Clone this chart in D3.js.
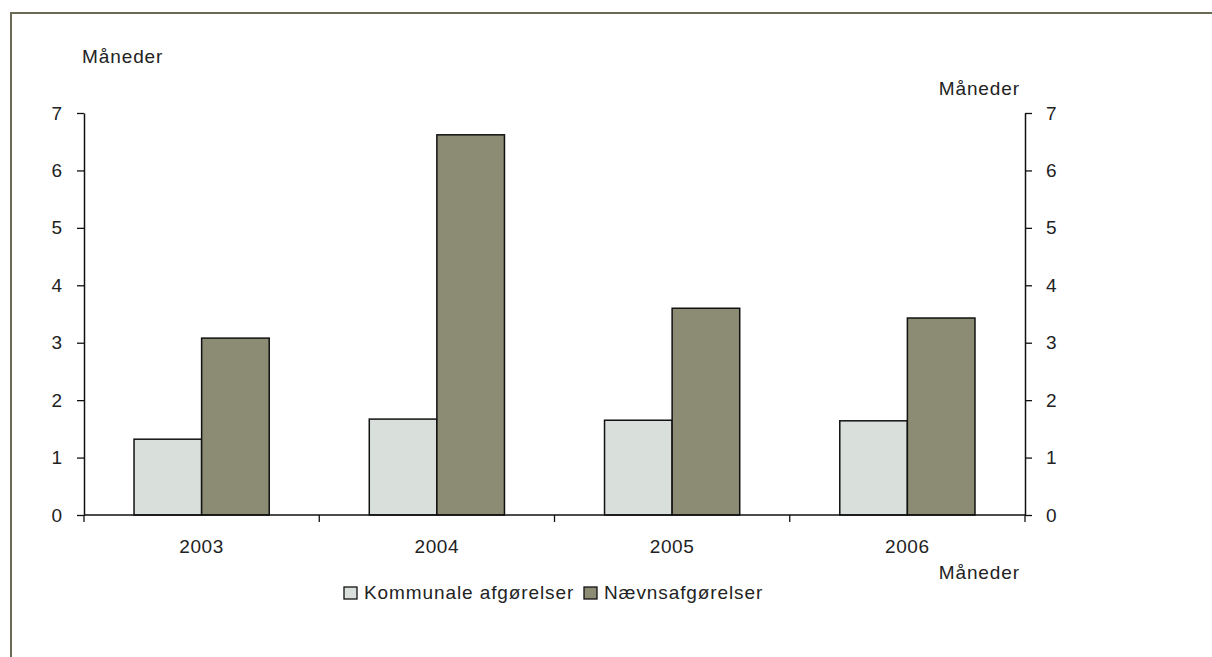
<!doctype html>
<meta charset='utf-8'>
<body style='margin:0;background:#fff'>
<script src='https://d3js.org/d3.v7.min.js'></script>
<script>

var years = ['2003', '2004', '2005', '2006'];
var seriesNames = ['Kommunale afgørelser', 'Nævnsafgørelser'];
var kommunale = [1.32, 1.67, 1.65, 1.64];
var naevn = [3.08, 6.62, 3.60, 3.43];
var yTicks = [0, 1, 2, 3, 4, 5, 6, 7];

var colors = ['#d9e0dc', '#8c8b74'];
var W = 1212, H = 657;
var plotLeft = 84, plotRight = 1025, plotTop = 113, plotBottom = 515;
var fontSize = '19px', spacing = '0.9px', ink = '#222';

var svg = d3.select('body').append('svg')
    .attr('width', W)
    .attr('height', H)
    .style('font-family', 'Liberation Sans, Arial, sans-serif');

// frame round the figure
svg.append('rect')
    .attr('x', 11).attr('y', 13)
    .attr('width', W + 20).attr('height', H + 20)
    .attr('fill', 'none')
    .attr('stroke', '#6b6b55')
    .attr('stroke-width', 2);

var x = d3.scaleBand().domain(years).range([plotLeft, plotRight]);
var x1 = d3.scaleBand().domain([0, 1]).range([0, x.bandwidth()]).paddingOuter(0.74).paddingInner(0);
var y = d3.scaleLinear().domain([0, 7]).range([plotBottom, plotTop]);

var data = years.map(function(yr, i) { return {year: yr, vals: [kommunale[i], naevn[i]]}; });

svg.append('g').selectAll('g')
    .data(data)
  .enter().append('g')
    .attr('transform', function(d) { return 'translate(' + x(d.year) + ',0)'; })
  .selectAll('rect')
    .data(function(d) { return d.vals; })
  .enter().append('rect')
    .attr('x', function(d, i) { return x1(i); })
    .attr('width', x1.bandwidth())
    .attr('y', function(d) { return y(d); })
    .attr('height', function(d) { return y(0) - y(d); })
    .attr('fill', function(d, i) { return colors[i]; })
    .attr('stroke', '#111')
    .attr('stroke-width', 1.5);

function styleAxis(sel) {
  sel.selectAll('path, line').attr('stroke', '#111').attr('stroke-width', 1.3);
  sel.select('.domain').attr('stroke-width', 1.5);
  sel.selectAll('text').attr('fill', ink).style('font-size', fontSize)
      .style('font-family', 'Liberation Sans, Arial, sans-serif');
}

svg.append('g')
    .attr('transform', 'translate(' + plotLeft + ',0)')
    .call(d3.axisLeft(y).tickValues(yTicks).tickFormat(d3.format('d')).tickSize(7).tickSizeOuter(0).tickPadding(15))
    .call(styleAxis);

svg.append('g')
    .attr('transform', 'translate(' + plotRight + ',0)')
    .call(d3.axisRight(y).tickValues(yTicks).tickFormat(d3.format('d')).tickSize(7).tickSizeOuter(0).tickPadding(14))
    .call(styleAxis);

// x axis: ticks on band boundaries
var xAx = svg.append('g').attr('transform', 'translate(0,' + plotBottom + ')');
xAx.append('line').attr('x1', plotLeft).attr('x2', plotRight).attr('stroke', '#111').attr('stroke-width', 1.5);
var bounds = years.map(function(d) { return x(d); }).concat([plotRight]);
xAx.selectAll('line.tk').data(bounds).enter().append('line')
    .attr('class', 'tk')
    .attr('x1', function(d) { return d; }).attr('x2', function(d) { return d; })
    .attr('y1', 0).attr('y2', 7)
    .attr('stroke', '#111').attr('stroke-width', 1.3);
xAx.selectAll('text').data(years).enter().append('text')
    .attr('x', function(d) { return x(d) + x.bandwidth() / 2; })
    .attr('y', 38)
    .attr('text-anchor', 'middle')
    .attr('fill', ink)
    .style('font-size', fontSize)
    .style('letter-spacing', '0.6px')
    .text(function(d) { return d; });

// unit labels
function unitLabel(px, py, anchor) {
  svg.append('text').attr('x', px).attr('y', py).attr('text-anchor', anchor)
      .attr('fill', ink).style('font-size', fontSize).style('letter-spacing', spacing)
      .text('Måneder');
}
unitLabel(82, 63, 'start');
unitLabel(1020, 95, 'end');
unitLabel(1020, 579, 'end');

// legend
var leg = svg.append('g').attr('transform', 'translate(344,587)');
var lx = [0, 240];
seriesNames.forEach(function(name, i) {
  leg.append('rect').attr('x', lx[i]).attr('y', 0).attr('width', 13).attr('height', 12)
      .attr('fill', colors[i]).attr('stroke', '#111').attr('stroke-width', 1.3);
  leg.append('text').attr('x', lx[i] + 20).attr('y', 12).attr('fill', ink)
      .style('font-size', fontSize).style('letter-spacing', spacing).text(name);
});

</script>
